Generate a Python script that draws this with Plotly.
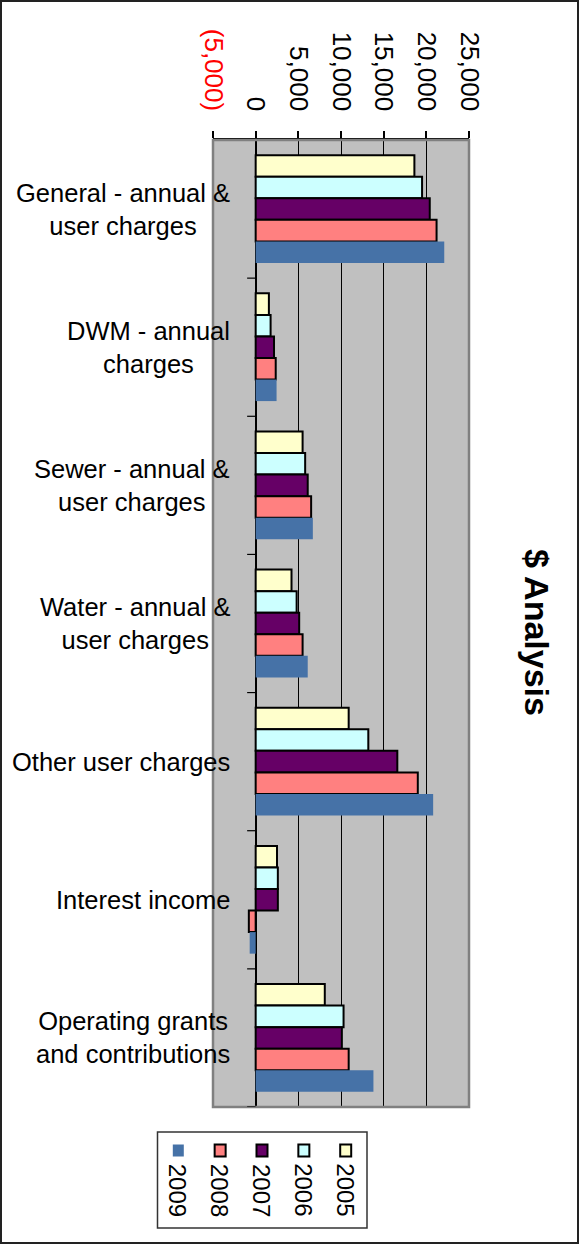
import plotly.graph_objects as go

# ---------------- data ----------------
categories = [
    "General - annual &<br>user charges",
    "DWM - annual<br>charges",
    "Sewer - annual &<br>user charges",
    "Water - annual &<br>user charges",
    "Other user charges",
    "Interest income",
    "Operating grants<br>and contributions",
]
years = ["2005", "2006", "2007", "2008", "2009"]
v2005 = [18600, 1550, 5500, 4200, 10900, 2500, 8100]
v2006 = [19500, 1750, 5800, 4800, 13200, 2600, 10300]
v2007 = [20400, 2150, 6100, 5100, 16600, 2600, 10100]
v2008 = [21200, 2350, 6500, 5500, 19000, -800, 10900]
v2009 = [22100, 2450, 6700, 6100, 20800, -700, 13800]
tick_vals = [-5000, 0, 5000, 10000, 15000, 20000, 25000]
tick_text = ['<span style="color:red">(5,000)</span>', "0", "5,000", "10,000",
             "15,000", "20,000", "25,000"]
title_text = "<b>$ Analysis</b>"

colors = {"2005": "#FFFFCC", "2006": "#CCFFFF", "2007": "#660066",
          "2008": "#FF8080", "2009": "#4672A7"}
outlined = {"2005": True, "2006": True, "2007": True, "2008": True, "2009": False}
values = {"2005": v2005, "2006": v2006, "2007": v2007, "2008": v2008, "2009": v2009}

# ---------------- layout geometry (pixels) ----------------
W, H = 588, 1247
PL, PR, PT, PB = 213, 469, 140, 1107
FONT = "Liberation Sans, Arial, sans-serif"


def px_x(x):
    return (x - PL) / (PR - PL)


def px_y(y):
    return (PB - y) / (PB - PT)


fig = go.Figure()
for yr in years:
    fig.add_trace(go.Bar(
        y=categories, x=values[yr], orientation="h", name=yr,
        marker=dict(color=colors[yr],
                    line=dict(color="black", width=2 if outlined[yr] else 0)),
        showlegend=False,
    ))

shapes = []
# plot-area border
shapes.append(dict(type="rect", xref="paper", yref="paper", x0=0, x1=1, y0=0, y1=1,
                   line=dict(color="#808080", width=2.5), layer="above"))
# category tick marks on the zero axis
for i in range(len(categories)):
    shapes.append(dict(type="line", xref="x", yref="y", x0=-1000, x1=0,
                       y0=i + 0.5, y1=i + 0.5, line=dict(color="black", width=1.2)))
# outer chart border
shapes.append(dict(type="rect", xref="paper", yref="paper",
                   x0=px_x(1), x1=px_x(578), y0=px_y(1243), y1=px_y(1),
                   line=dict(color="#222222", width=2), layer="above"))
# legend box
shapes.append(dict(type="rect", xref="paper", yref="paper",
                   x0=px_x(157.5), x1=px_x(367), y0=px_y(1228), y1=px_y(1132),
                   line=dict(color="#333333", width=1.5), fillcolor="white"))

annotations = []
for cat in categories:
    annotations.append(dict(x=px_x(232), xref="paper", y=cat, yref="y",
                            text=cat, showarrow=False, xanchor="right",
                            yanchor="middle", align="center",
                            font=dict(family=FONT, size=25.5, color="black")))

annotations.append(dict(x=px_x(537), y=px_y(632), xref="paper", yref="paper",
                        text=title_text, showarrow=False, textangle=90,
                        xanchor="center", yanchor="middle",
                        font=dict(family=FONT, size=34, color="black")))

legend_order = ["2009", "2008", "2007", "2006", "2005"]
for k, yr in enumerate(legend_order):
    cx = 178.3 + k * 41.85
    shapes.append(dict(type="rect", xref="paper", yref="paper",
                       x0=px_x(cx - 5.5), x1=px_x(cx + 5.5),
                       y0=px_y(1156.5), y1=px_y(1144.5),
                       fillcolor=colors[yr],
                       line=dict(color="black", width=2 if outlined[yr] else 0)))
    annotations.append(dict(x=px_x(cx), y=px_y(1190), xref="paper", yref="paper",
                            text=yr, showarrow=False, textangle=90,
                            xanchor="center", yanchor="middle",
                            font=dict(family=FONT, size=24, color="black")))

fig.update_layout(
    width=W, height=H, autosize=False,
    margin=dict(l=PL, r=W - PR, t=PT, b=H - PB, pad=0),
    paper_bgcolor="white", plot_bgcolor="#C0C0C0",
    barmode="group", bargap=0.22, bargroupgap=0,
    shapes=shapes, annotations=annotations,
    xaxis=dict(side="top", range=[-5000, 25000], tickvals=tick_vals,
               ticktext=tick_text, tickangle=90,
               showgrid=True, gridcolor="black", gridwidth=1,
               zeroline=True, zerolinecolor="black", zerolinewidth=2,
               showline=True, linecolor="black", linewidth=1.5,
               ticks="outside", ticklen=7, tickcolor="black", tickwidth=1.5,
               ticklabelstandoff=11,
               tickfont=dict(family=FONT, size=26, color="black"),
               fixedrange=True),
    yaxis=dict(type="category", categoryorder="array", categoryarray=categories,
               range=[len(categories) - 0.5, -0.5], showticklabels=False,
               showgrid=False, zeroline=False, showline=False, ticks="",
               fixedrange=True),
)

fig.write_html("out.html",
               config={"displayModeBar": False},
               post_script="document.body.style.margin='0px';"
                           "document.body.style.overflow='hidden';")
